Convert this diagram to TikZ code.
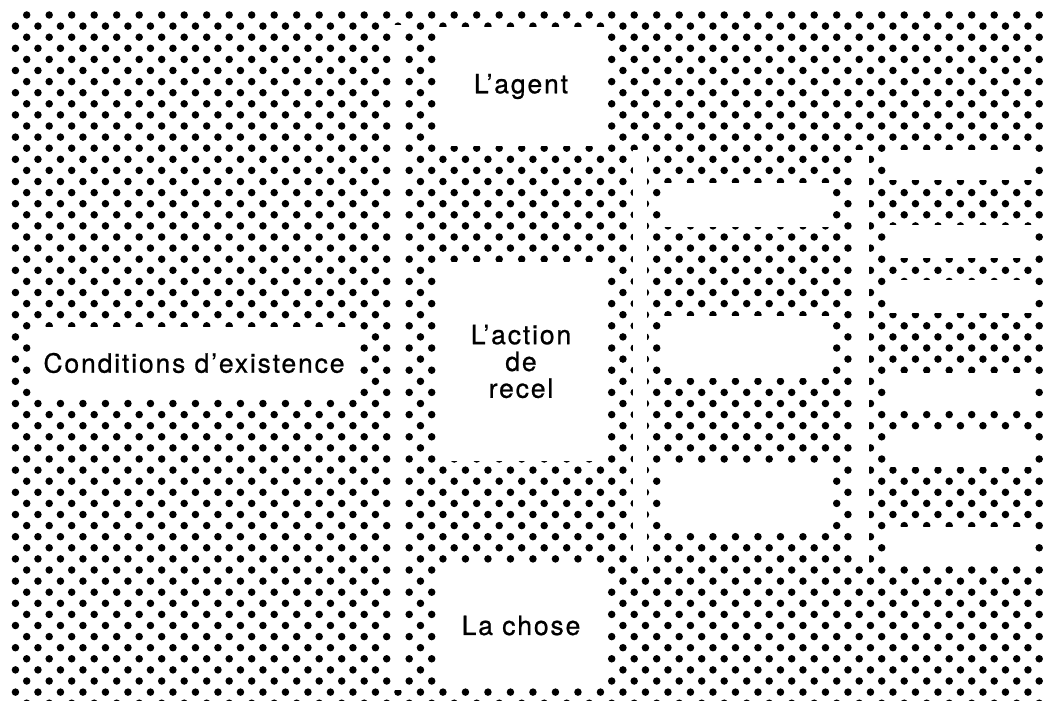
\documentclass[tikz,border=0pt]{standalone}
\usepackage{fontspec}
\newfontfamily\heros{TeX Gyre Heros}[LetterSpace=7,FakeBold=0.8]
\begin{document}
\begin{tikzpicture}[
  x=1pt,y=-1pt,
  gap/.style={fill=white},
  slot/.style={fill=white},
  lbl/.style={fill=white,inner sep=0pt,align=center,
    font=\heros\fontsize{26.5}{26.8}\selectfont}
]
\useasboundingbox (0,0) rectangle (1044,701);
% halftone screen
\begin{scope}
\clip (9,9) rectangle (1044,701);
\foreach \j in {0,...,62}{
  \pgfmathsetmacro\yy{15+11.1*\j}
  \pgfmathsetmacro\xo{26.7-11.25*mod(\j,2)}
  \foreach \k in {0,...,46}
    \fill (\xo+22.5*\k,\yy) circle[radius=3.75pt];
}
\end{scope}
% white strips between the columns
\fill[gap] (392,25) rectangle (404,690);
\fill[gap] (633,150) rectangle (647,563);
\fill[gap] (855,150) rectangle (869,563);
% labelled boxes
\node[lbl,minimum width=326pt,minimum height=72pt] (cond) at (194,363) {Conditions d’existence};
\node[lbl,minimum width=168pt,minimum height=119pt] (agent) at (521,86.5) {L’agent};
\node[lbl,minimum width=168pt,minimum height=199pt] (action) at (521,361.5) {L’action\\de\\recel};
\node[lbl,minimum width=168pt,minimum height=125pt] (chose) at (521,625.5) {La chose};
% empty slots, third column
\foreach \ya/\yb in {183/227,316/378,464/530}
  \fill[slot] (664,\ya) rectangle (833,\yb);
% empty slots, fourth column
\foreach \ya/\yb in {150/180,225/258,280/313,373/410,430/467,527/563}
  \fill[slot] (889,\ya) rectangle (1034,\yb);
\end{tikzpicture}
\end{document}
